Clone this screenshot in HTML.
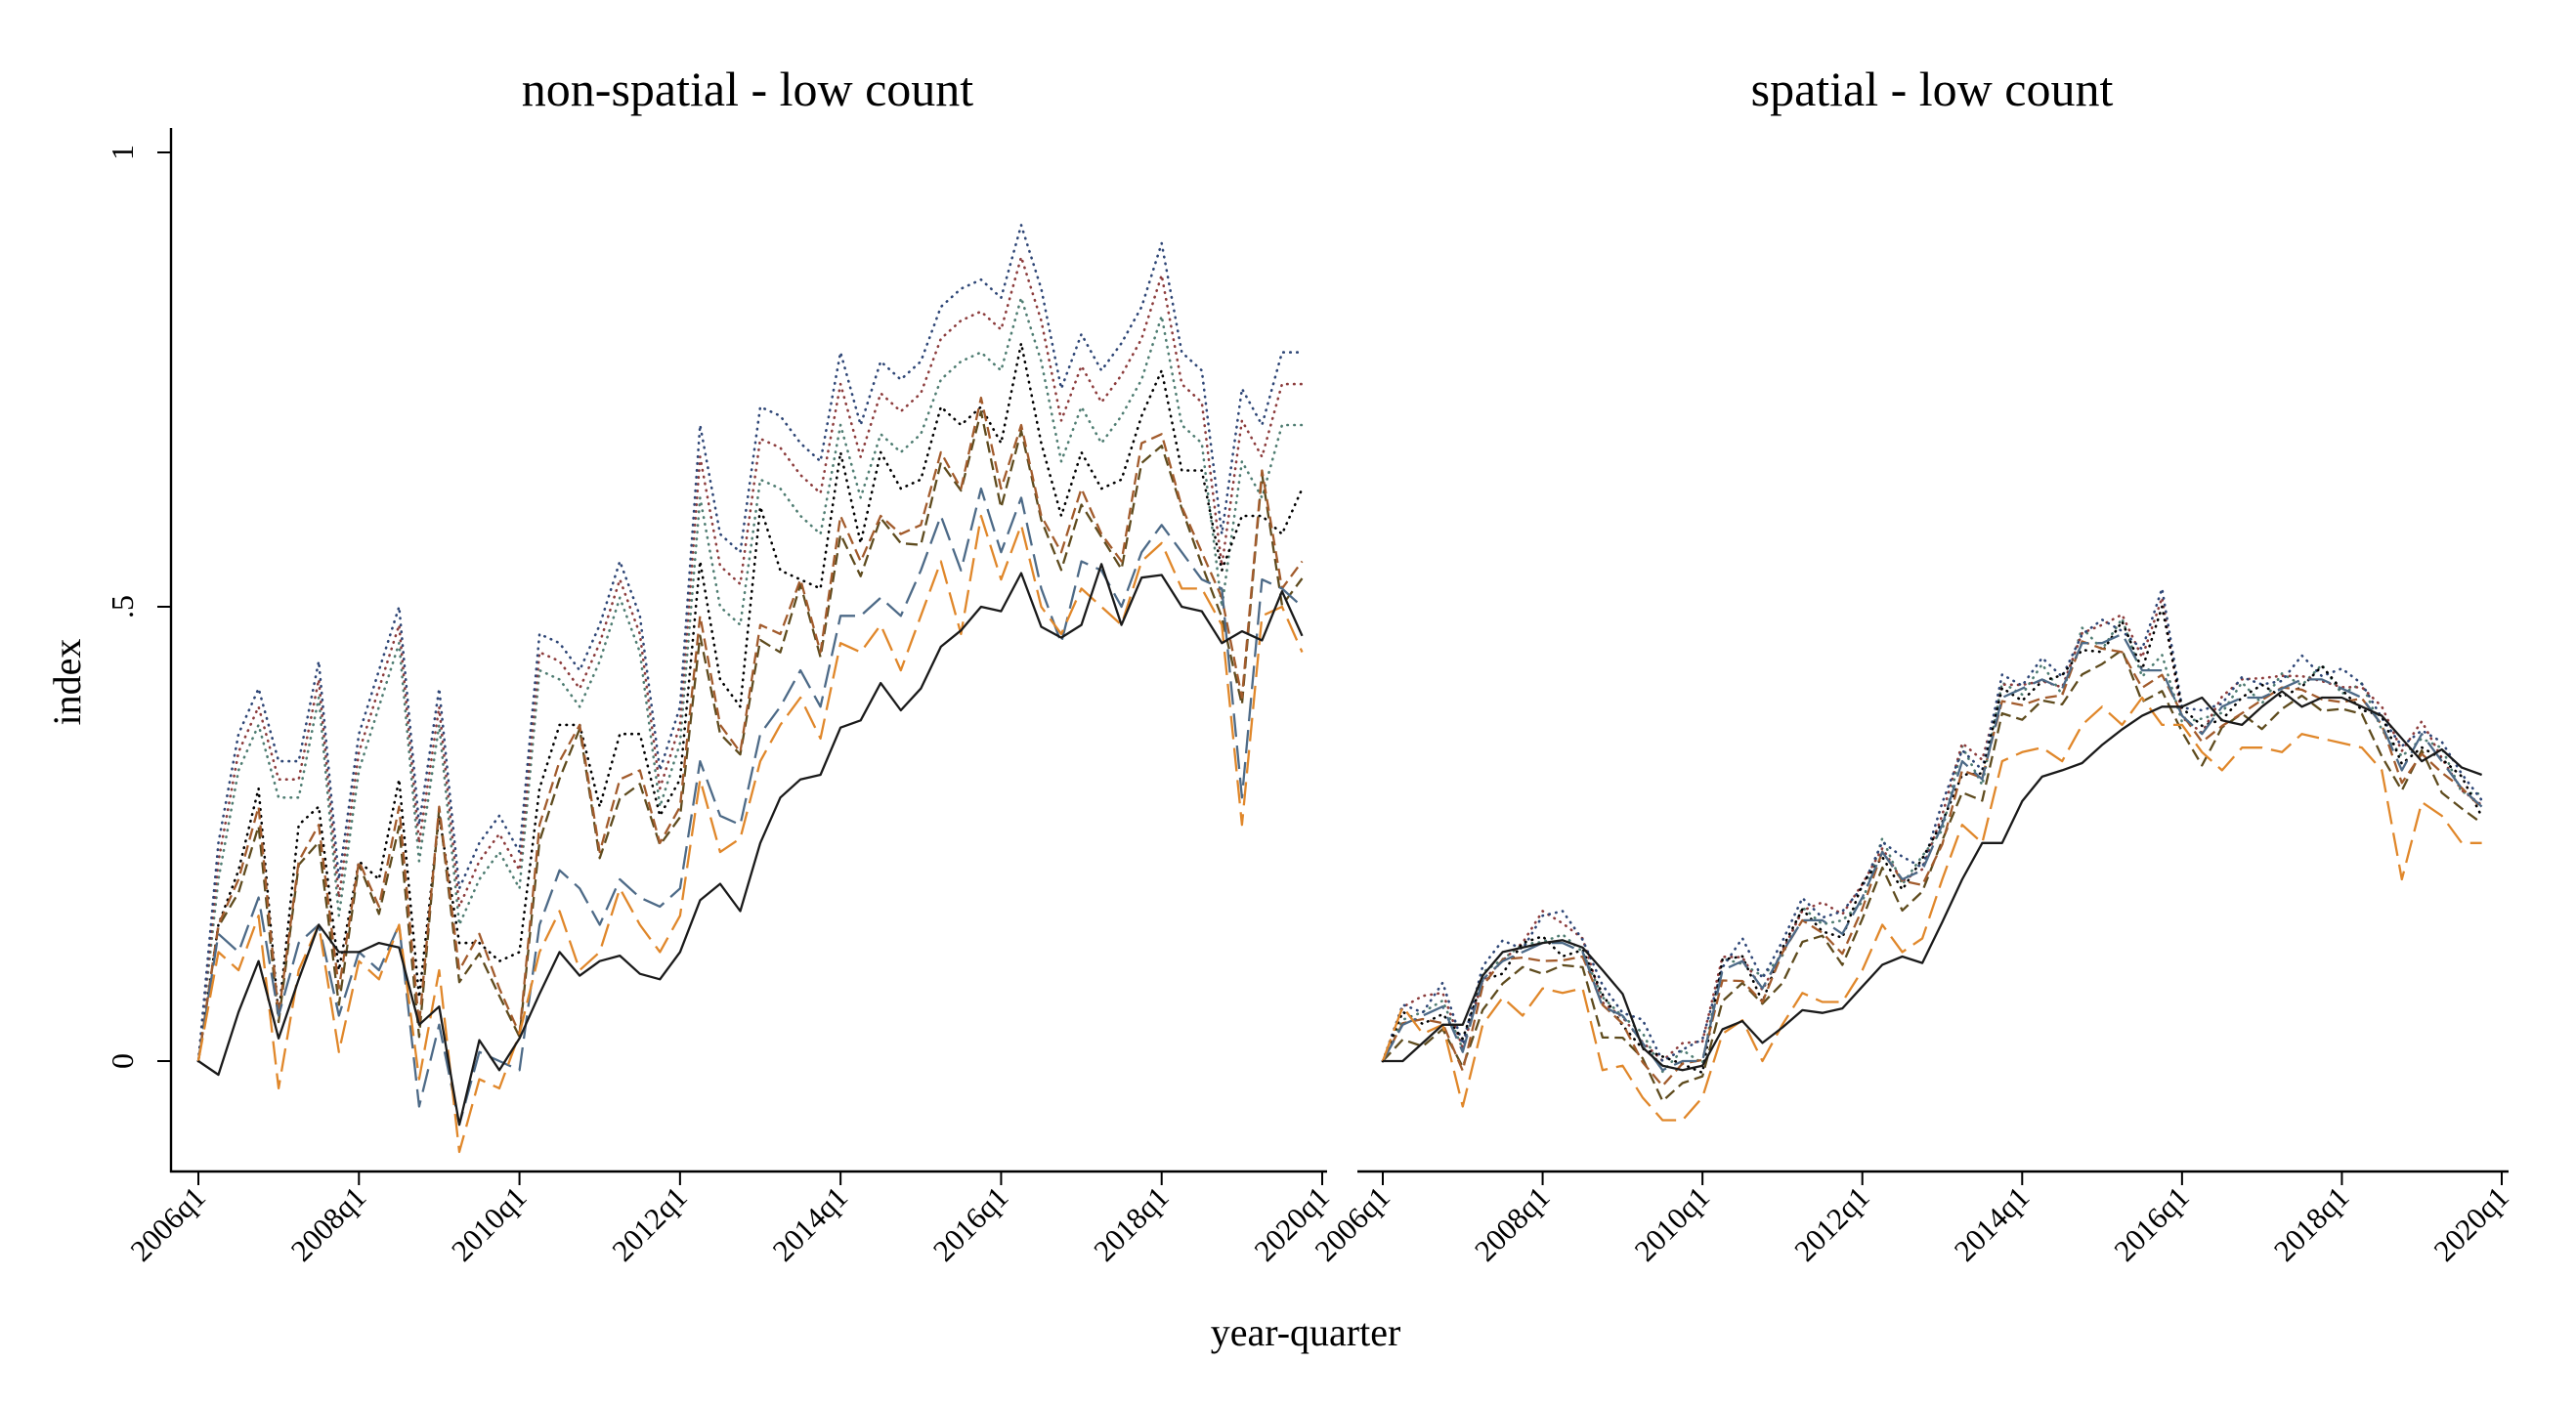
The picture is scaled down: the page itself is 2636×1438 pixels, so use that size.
<!DOCTYPE html>
<html><head><meta charset="utf-8"><style>
html,body{margin:0;padding:0;background:#fff;}
svg{display:block;}
text{font-family:"Liberation Serif",serif;fill:#000;}
</style></head><body>
<svg id="s" width="2636" height="1438" viewBox="0 0 2636 1438" xmlns="http://www.w3.org/2000/svg">
<rect width="2636" height="1438" fill="#fff"/>
<text x="765" y="108" font-size="50" text-anchor="middle">non-spatial - low count</text>
<text x="1977" y="108" font-size="50" text-anchor="middle">spatial - low count</text>
<text x="0" y="0" font-size="40" text-anchor="middle" transform="translate(82,698) rotate(-90)">index</text>
<text x="1336" y="1377" font-size="40" text-anchor="middle">year-quarter</text>
<g id="g"></g>
</svg>
<script>
var NS="http://www.w3.org/2000/svg",g=document.getElementById('g');
function el(t,a,txt){var e=document.createElementNS(NS,t);for(var k in a)e.setAttribute(k,a[k]);if(txt!==undefined)e.textContent=txt;g.appendChild(e);return e;}
var Y0=1086,U=930;function Y(v){return Y0-v*U;}
el('line',{x1:175,y1:131,x2:175,y2:1200,stroke:'#000','stroke-width':2.4});
el('line',{x1:174,y1:1199,x2:1358,y2:1199,stroke:'#000','stroke-width':2.4});
el('line',{x1:1389,y1:1199,x2:2567,y2:1199,stroke:'#000','stroke-width':2.4});
[[0,'0'],[0.5,'.5'],[1,'1']].forEach(function(t){var y=Y(t[0]);el('line',{x1:161,y1:y,x2:175,y2:y,stroke:'#000','stroke-width':2});
el('text',{x:0,y:0,'font-size':32,'text-anchor':'middle',transform:'translate(136,'+y+') rotate(-90)'},t[1]);});
function xticks(x0,x1){for(var i=0;i<8;i++){var x=x0+(x1-x0)*i/7;el('line',{x1:x,y1:1199,x2:x,y2:1213,stroke:'#000','stroke-width':2});
el('text',{x:0,y:0,'font-size':31,'text-anchor':'end',transform:'translate('+(x+9)+',1227) rotate(-45)'},(2006+2*i)+'q1');}}
xticks(203,1353);xticks(1415,2560);
var L={
bs:[0,-.015,.054,.11,.025,.09,.15,.12,.12,.13,.125,.04,.06,-.07,.023,-.01,.025,.074,.12,.094,.11,.116,.096,.09,.12,.177,.195,.165,.24,.29,.31,.315,.367,.375,.416,.386,.41,.456,.474,.5,.495,.537,.478,.466,.48,.547,.48,.532,.535,.5,.495,.46,.473,.463,.517,.468],
or:[0,.12,.1,.16,-.03,.1,.15,.01,.11,.09,.15,-.02,.1,-.1,-.02,-.03,.03,.12,.165,.1,.12,.19,.15,.12,.16,.31,.23,.245,.33,.37,.4,.355,.46,.45,.48,.43,.49,.55,.47,.6,.53,.59,.5,.47,.52,.5,.48,.55,.57,.52,.52,.48,.26,.49,.5,.45],
bl:[0,.14,.12,.18,.05,.13,.15,.05,.12,.1,.15,-.05,.04,-.07,.01,0,-.01,.15,.21,.19,.15,.2,.18,.17,.19,.33,.27,.26,.36,.39,.43,.39,.49,.49,.51,.49,.54,.6,.54,.63,.56,.62,.52,.46,.55,.54,.5,.56,.59,.56,.53,.52,.29,.53,.52,.5],
br:[0,.15,.2,.28,.05,.22,.26,.08,.22,.17,.28,.04,.28,.1,.14,.08,.03,.26,.33,.37,.23,.31,.32,.24,.28,.49,.37,.34,.48,.47,.53,.45,.6,.55,.6,.58,.59,.67,.63,.73,.63,.7,.6,.56,.63,.58,.55,.68,.69,.61,.56,.51,.4,.65,.52,.55],
kd:[0,.15,.21,.3,.05,.26,.28,.1,.22,.2,.31,.07,.27,.13,.13,.11,.12,.3,.37,.37,.28,.36,.36,.27,.31,.55,.42,.39,.61,.54,.53,.52,.67,.57,.67,.63,.64,.72,.7,.72,.68,.79,.68,.6,.67,.63,.64,.71,.76,.65,.65,.54,.6,.6,.58,.63],
nd:[0,.24,.36,.41,.33,.33,.44,.2,.36,.43,.5,.26,.41,.19,.24,.27,.23,.47,.46,.43,.48,.55,.49,.32,.39,.7,.58,.56,.72,.71,.68,.66,.78,.7,.77,.75,.77,.83,.85,.86,.84,.92,.85,.74,.8,.76,.79,.83,.9,.78,.76,.58,.74,.7,.78,.78]};
L.ol=L.br.map(function(v,i){return i==0?0:v-0.012+0.01*Math.sin(i*1.7);});
L.md=L.nd.map(function(v,i){return i==0?0:v-(i<25?0.02:0.035);});
L.td=L.nd.map(function(v,i){return i==0?0:v-(i<25?0.04:0.08);});
var R={
bs:[0,0,.02,.04,.04,.094,.12,.125,.13,.133,.125,.1,.074,.015,-.005,-.01,-.005,.035,.044,.02,.037,.056,.053,.058,.082,.106,.115,.108,.153,.2,.24,.24,.286,.313,.32,.328,.348,.365,.38,.39,.39,.4,.375,.37,.39,.407,.39,.4,.4,.39,.38,.355,.33,.343,.323,.315],
or:[0,.06,.03,.04,-.05,.04,.07,.05,.08,.075,.08,-.01,-.005,-.04,-.065,-.065,-.04,.03,.045,0,.04,.075,.065,.065,.1,.15,.12,.135,.2,.26,.24,.33,.34,.345,.33,.37,.39,.37,.4,.37,.37,.34,.32,.345,.345,.34,.36,.355,.35,.345,.32,.2,.285,.27,.24,.24],
bl:[0,.04,.05,.06,.01,.09,.11,.12,.13,.13,.12,.06,.05,.02,-.01,0,0,.1,.11,.08,.12,.155,.155,.14,.18,.23,.2,.21,.26,.33,.31,.4,.41,.42,.41,.46,.46,.47,.43,.43,.38,.36,.39,.4,.4,.41,.42,.42,.41,.4,.37,.32,.36,.33,.3,.28]};
function mk(base,off,amp,ph){return base.map(function(v,i){return i==0?0:v+off+amp*Math.sin(i*ph);});}
R.br=mk(R.bl,-0.01,0.012,1.3);R.ol=mk(R.bl,-0.025,0.01,2.1);
R.kd=mk(R.bl,0.0,0.015,1.9);R.nd=mk(R.bl,0.015,0.012,2.5);R.md=mk(R.bl,0.01,0.012,0.9);R.td=mk(R.bl,0.005,0.012,3.1);
R.nd[39]=.52;R.md[39]=.51;R.kd[39]=.5;R.nd[8]=.16;R.md[8]=.165;R.nd[9]=.165;
var st={or:['#e0872a','24,9'],bl:['#4d6a87','24,9'],br:['#a25b2c','12,6'],ol:['#5e4b1e','12,6'],td:['#4f7d72','2,6'],md:['#8c3c3c','2,6'],nd:['#2e4676','2,6'],kd:['#000','2,7'],bs:['#1a1a1a','']};
function draw(D,x0,dx){['td','md','nd','kd','ol','br','bl','or','bs'].forEach(function(k){var p=D[k].map(function(v,i){return (x0+i*dx).toFixed(1)+','+Y(v).toFixed(1);}).join(' ');
var a={points:p,fill:'none',stroke:st[k][0],'stroke-width':2.3,'stroke-linejoin':'round'};if(st[k][1])a['stroke-dasharray']=st[k][1];if(k=='kd'||k=='nd'||k=='md'||k=='td'){a['stroke-width']=2.6;a['stroke-linecap']='round';a['stroke-dasharray']='0.5,6.5';}
el('polyline',a);});}
draw(L,203,(1353-203)/56);draw(R,1415,(2560-1415)/56);
</script>
</body></html>
